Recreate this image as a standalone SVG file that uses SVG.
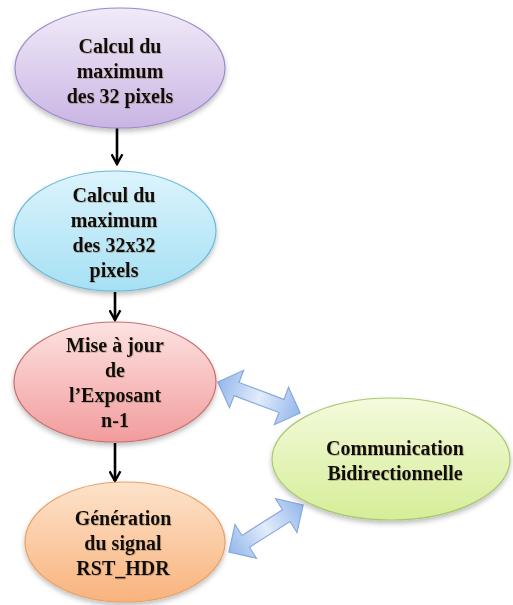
<svg xmlns="http://www.w3.org/2000/svg" width="513" height="605" viewBox="0 0 513 605">
<style>
  .t { font-family: "Liberation Serif", "Times New Roman", serif; font-weight: bold; font-size: 20px; fill: #111; text-anchor: middle; }
  .conn { stroke: #000; stroke-width: 2.6; fill: none; }
  .blk { fill: url(#gBlue); stroke: #86a9dc; stroke-width: 1.2; }
</style>
<defs>
  <linearGradient id="gPurple" x1="0" y1="0" x2="0" y2="1"><stop offset="0" stop-color="#f1ebf8"/><stop offset="1" stop-color="#c9b5e4"/></linearGradient>
  <linearGradient id="gCyan" x1="0" y1="0" x2="0" y2="1"><stop offset="0" stop-color="#dcf4fc"/><stop offset="1" stop-color="#a6e0f4"/></linearGradient>
  <linearGradient id="gRed" x1="0" y1="0" x2="0" y2="1"><stop offset="0" stop-color="#fde2e2"/><stop offset="1" stop-color="#f29c9c"/></linearGradient>
  <linearGradient id="gOrange" x1="0" y1="0" x2="0" y2="1"><stop offset="0" stop-color="#fde3cb"/><stop offset="1" stop-color="#f9b37d"/></linearGradient>
  <linearGradient id="gGreen" x1="0" y1="0" x2="0" y2="1"><stop offset="0" stop-color="#f4fadc"/><stop offset="1" stop-color="#d5ee98"/></linearGradient>
  <linearGradient id="gBlue" x1="0" y1="0" x2="1" y2="0"><stop offset="0" stop-color="#93b7ec"/><stop offset="0.5" stop-color="#e2ecfa"/><stop offset="1" stop-color="#93b7ec"/></linearGradient>
  <filter id="sh" x="-20%" y="-20%" width="140%" height="150%"><feDropShadow dx="0" dy="3" stdDeviation="2.5" flood-color="#000" flood-opacity="0.25"/></filter>
  <filter id="ts" x="-10%" y="-20%" width="120%" height="140%"><feDropShadow dx="0.6" dy="0.8" stdDeviation="0.5" flood-color="#7a5a3a" flood-opacity="0.45"/></filter>
  <marker id="arr" viewBox="0 0 12 12" refX="10" refY="6" markerWidth="5" markerHeight="5" orient="auto" markerUnits="strokeWidth">
    <path d="M1,1 L10,6 L1,11" fill="none" stroke="#000" stroke-width="2.2"/>
  </marker>
</defs>

<g id="connectors">
  <line class="conn" x1="117" y1="128" x2="117" y2="164" marker-end="url(#arr)"/>
  <line class="conn" x1="115" y1="292" x2="115" y2="320" marker-end="url(#arr)"/>
  <line class="conn" x1="115" y1="443" x2="115" y2="481" marker-end="url(#arr)"/>
  <g id="link-exposant-comm" transform="translate(259,397.5) rotate(20.7)">
    <path class="blk" d="M-44,0 L-24,-20 L-24,-7 L24,-7 L24,-20 L44,0 L24,20 L24,7 L-24,7 L-24,20 Z"/>
  </g>
  <g id="link-rst-comm" transform="translate(266,528.5) rotate(-32.4)">
    <path class="blk" d="M-44,0 L-24,-20 L-24,-7 L24,-7 L24,-20 L44,0 L24,20 L24,7 L-24,7 L-24,20 Z"/>
  </g>
</g>

<g id="node-max32">
  <ellipse cx="120" cy="68" rx="105" ry="60" fill="url(#gPurple)" stroke="#9d8ac9" stroke-width="1.2" filter="url(#sh)"/>
  <g filter="url(#ts)">
    <text class="t" x="120" y="53">Calcul du</text>
    <text class="t" x="120" y="78">maximum</text>
    <text class="t" x="120" y="103">des 32 pixels</text>
  </g>
</g>

<g id="node-max32x32">
  <ellipse cx="115" cy="231" rx="101" ry="60" fill="url(#gCyan)" stroke="#6bbad8" stroke-width="1.2" filter="url(#sh)"/>
  <g filter="url(#ts)">
    <text class="t" x="114" y="202">Calcul du</text>
    <text class="t" x="114" y="227">maximum</text>
    <text class="t" x="114" y="252">des 32x32</text>
    <text class="t" x="114" y="277">pixels</text>
  </g>
</g>

<g id="node-exposant">
  <ellipse cx="115" cy="382" rx="101" ry="60" fill="url(#gRed)" stroke="#c86f6f" stroke-width="1.2" filter="url(#sh)"/>
  <g filter="url(#ts)">
    <text class="t" x="115" y="352">Mise à jour</text>
    <text class="t" x="115" y="377">de</text>
    <text class="t" x="115" y="402">l’Exposant</text>
    <text class="t" x="115" y="427">n-1</text>
  </g>
</g>

<g id="node-rst">
  <ellipse cx="125" cy="542" rx="100" ry="60" fill="url(#gOrange)" stroke="#eaa063" stroke-width="1.2" filter="url(#sh)"/>
  <g filter="url(#ts)">
    <text class="t" x="123" y="525">Génération</text>
    <text class="t" x="123" y="550">du signal</text>
    <text class="t" x="123" y="575">RST_HDR</text>
  </g>
</g>

<g id="node-comm">
  <ellipse cx="391" cy="459" rx="119" ry="61" fill="url(#gGreen)" stroke="#a9c86e" stroke-width="1.2" filter="url(#sh)"/>
  <g filter="url(#ts)">
    <text class="t" x="395" y="455">Communication</text>
    <text class="t" x="395" y="480">Bidirectionnelle</text>
  </g>
</g>
</svg>
